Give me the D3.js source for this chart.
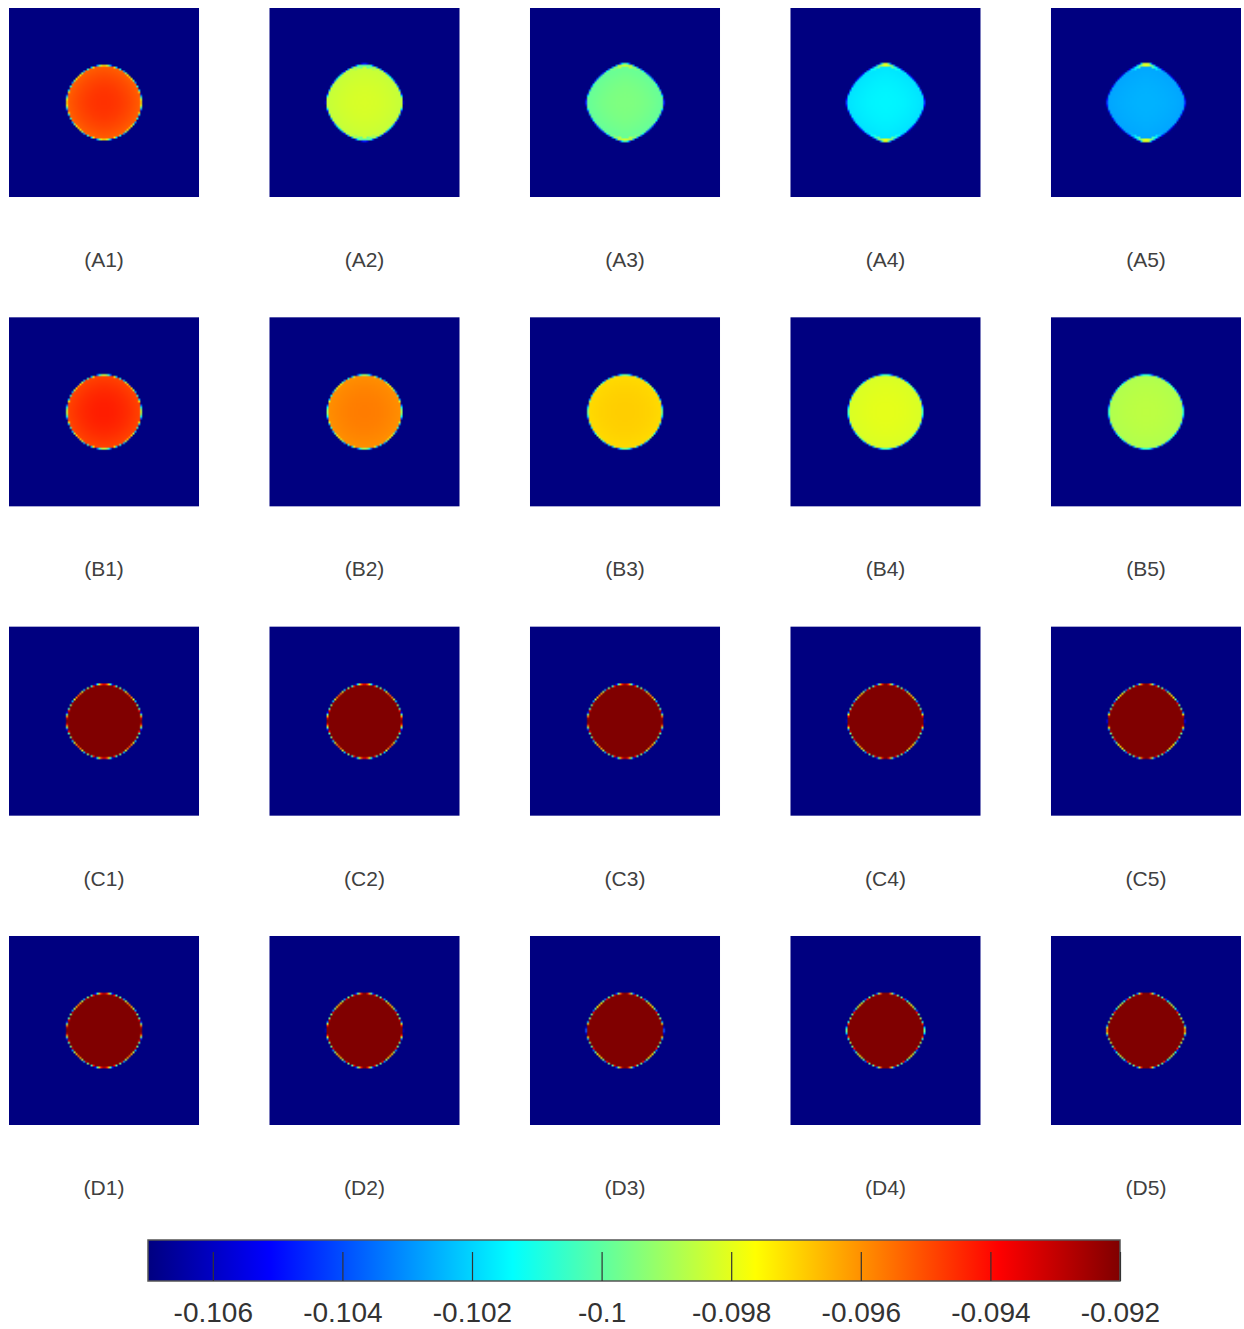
<!DOCTYPE html>
<html>
<head>
<meta charset="utf-8">
<script src="https://cdn.jsdelivr.net/npm/d3@7/dist/d3.min.js"></script>
<style>
  body { margin: 0; background: #fff; }
  svg { display: block; }
  text { font-family: "Liberation Sans", Arial, Helvetica, sans-serif; }
</style>
</head>
<body>
<script>
// ---- data -------------------------------------------------------------
const rowNames = ["A", "B", "C", "D"];
const colNumbers = [1, 2, 3, 4, 5];

// field value at the centre of each inclusion (rows A..D, columns 1..5)
const centerValues = [
  [-0.0946, -0.0982, -0.0995, -0.1015, -0.1025],
  [-0.0943, -0.0957, -0.0969, -0.0980, -0.0986],
  [-0.0920, -0.0920, -0.0920, -0.0920, -0.0920],
  [-0.0920, -0.0920, -0.0920, -0.0920, -0.0920]
];
// field value just inside the boundary of each inclusion
const edgeValues = [
  [-0.0953, -0.0985, -0.0999, -0.1018, -0.1027],
  [-0.0949, -0.0960, -0.0971, -0.0982, -0.0988],
  [-0.0920, -0.0920, -0.0920, -0.0920, -0.0920],
  [-0.0920, -0.0920, -0.0920, -0.0920, -0.0920]
];
// value reached at the top / bottom tips of the inclusion (null: none)
const tipValues = [
  [null, -0.1000, -0.0982, -0.0980, -0.0980],
  [null, null, null, null, null],
  [null, null, null, null, null],
  [null, null, null, null, null]
];
// four-fold bulge of the inclusion outline
const bulge = [
  [0.006, 0.014, 0.020, 0.024, 0.027],
  [0.004, 0.005, 0.006, 0.007, 0.008],
  [0.008, 0.008, 0.010, 0.012, 0.014],
  [0.010, 0.012, 0.014, 0.016, 0.018]
];
// extra sharpness of the top/bottom and left/right points
const pointVertical = [
  [0.010, 0.030, 0.045, 0.050, 0.055],
  [0.005, 0.005, 0.005, 0.005, 0.005],
  [0.010, 0.010, 0.010, 0.010, 0.010],
  [0.010, 0.010, 0.010, 0.010, 0.010]
];
const pointHorizontal = [
  [0.010, 0.020, 0.025, 0.030, 0.030],
  [0.005, 0.005, 0.005, 0.005, 0.005],
  [0.015, 0.015, 0.015, 0.020, 0.020],
  [0.015, 0.020, 0.025, 0.035, 0.045]
];
const backgroundValue = -0.107;

const colorDomain = [-0.107, -0.092];
const colorTicks = [-0.106, -0.104, -0.102, -0.1, -0.098, -0.096, -0.094, -0.092];
const colorTickLabels = ["-0.106", "-0.104", "-0.102", "-0.1", "-0.098", "-0.096", "-0.094", "-0.092"];

// ---- colour map (jet) -------------------------------------------------
const jetStops = [0, 1 / 8, 3 / 8, 5 / 8, 7 / 8, 1];
const jetColors = ["#000080", "#0000ff", "#00ffff", "#ffff00", "#ff0000", "#800000"];
const span = colorDomain[1] - colorDomain[0];
const color = d3.scaleLinear()
  .domain(jetStops.map(p => colorDomain[0] + p * span))
  .range(jetColors)
  .interpolate(d3.interpolateRgb)
  .clamp(true);

// ---- layout -----------------------------------------------------------
const W = 1244, H = 1329;
const svg = d3.select("body").append("svg").attr("width", W).attr("height", H);

const xCol = d3.scaleBand().domain(colNumbers).range([9, 1241]).paddingInner(0.2706);
const yRow = d3.scaleBand().domain(rowNames).range([8, 1125]).paddingInner(0.389);

// grid on which every panel field is sampled
const N = 100;
const gx = d3.scaleLinear().domain([0, N]).range([-1, 1]);
const radius = 0.39;          // inclusion radius relative to the half width
const halfPx = 95;            // half width of a panel in pixels

function panelField(ri, ci) {
  const c0 = centerValues[ri][ci], c1 = edgeValues[ri][ci];
  const tip = tipValues[ri][ci], a = bulge[ri][ci];
  const pv = pointVertical[ri][ci], ph = pointHorizontal[ri][ci];
  const vals = new Float64Array(N * N);
  for (let j = 0; j < N; j++) {
    for (let i = 0; i < N; i++) {
      const x = gx(i + 0.5), y = gx(j + 0.5);
      const r = Math.hypot(x, y);
      const th = Math.atan2(y, x);
      const vert = Math.abs(Math.sin(th)), hor = Math.abs(Math.cos(th));
      const rb = radius * (1 + a * Math.cos(4 * th) + pv * Math.pow(vert, 40) + ph * Math.pow(hor, 40));
      const dPx = (rb - r) * halfPx;
      const cover = Math.max(0, Math.min(1, dPx / 1.6 + 0.5));
      const t = Math.min(1, (r / rb) * (r / rb));
      let inner = c0 + (c1 - c0) * t;
      if (tip !== null && dPx < 3.4 && dPx > -1) {
        const w = Math.pow(vert, 35);
        inner = inner + (tip - inner) * w;
      }
      vals[j * N + i] = backgroundValue + (inner - backgroundValue) * cover;
    }
  }
  return vals;
}

function fieldImage(vals) {
  const cv = document.createElement("canvas");
  cv.width = N; cv.height = N;
  const ctx = cv.getContext("2d");
  const img = ctx.createImageData(N, N);
  for (let k = 0; k < N * N; k++) {
    const c = d3.rgb(color(vals[k]));
    img.data[4 * k] = c.r;
    img.data[4 * k + 1] = c.g;
    img.data[4 * k + 2] = c.b;
    img.data[4 * k + 3] = 255;
  }
  ctx.putImageData(img, 0, 0);
  return cv.toDataURL();
}

// ---- panels -----------------------------------------------------------
const panels = [];
rowNames.forEach((rn, ri) => colNumbers.forEach((cn, ci) => panels.push({ rn, cn, ri, ci })));

const g = svg.append("g").attr("class", "panels");
const cell = g.selectAll("g.panel").data(panels).join("g").attr("class", "panel");

cell.append("image")
  .attr("x", d => xCol(d.cn))
  .attr("y", d => yRow(d.rn))
  .attr("width", xCol.bandwidth())
  .attr("height", yRow.bandwidth())
  .attr("preserveAspectRatio", "none")
  .attr("href", d => fieldImage(panelField(d.ri, d.ci)));

cell.append("text")
  .attr("x", d => xCol(d.cn) + xCol.bandwidth() / 2)
  .attr("y", d => yRow(d.rn) + yRow.bandwidth() + 70)
  .attr("text-anchor", "middle")
  .attr("font-size", 21)
  .attr("fill", "#404040")
  .text(d => `(${d.rn}${d.cn})`);

// ---- colour bar -------------------------------------------------------
const cbX = d3.scaleLinear().domain(colorDomain).range([148, 1120]);
const cbTop = 1240, cbH = 41;

const grad = svg.append("defs").append("linearGradient")
  .attr("id", "jet").attr("x1", "0%").attr("x2", "100%");
grad.selectAll("stop").data(jetStops).join("stop")
  .attr("offset", d => `${d * 100}%`)
  .attr("stop-color", (d, i) => jetColors[i]);

const cb = svg.append("g").attr("class", "colorbar");
cb.append("rect")
  .attr("x", cbX(colorDomain[0])).attr("y", cbTop)
  .attr("width", cbX(colorDomain[1]) - cbX(colorDomain[0])).attr("height", cbH)
  .attr("fill", "url(#jet)")
  .attr("stroke", "#555").attr("stroke-width", 1.5);

const axis = d3.axisBottom(cbX)
  .tickValues(colorTicks)
  .tickFormat((d, i) => colorTickLabels[i])
  .tickSizeInner(-29)
  .tickSizeOuter(0)
  .tickPadding(21);

const ax = cb.append("g").attr("transform", `translate(0,${cbTop + cbH})`).call(axis);
ax.select(".domain").remove();
ax.selectAll(".tick line").attr("stroke", "#333").attr("stroke-width", 1.2);
ax.selectAll(".tick text")
  .attr("font-size", 28)
  .attr("font-family", "Liberation Sans, Arial, sans-serif")
  .attr("fill", "#333");
</script>
</body>
</html>
